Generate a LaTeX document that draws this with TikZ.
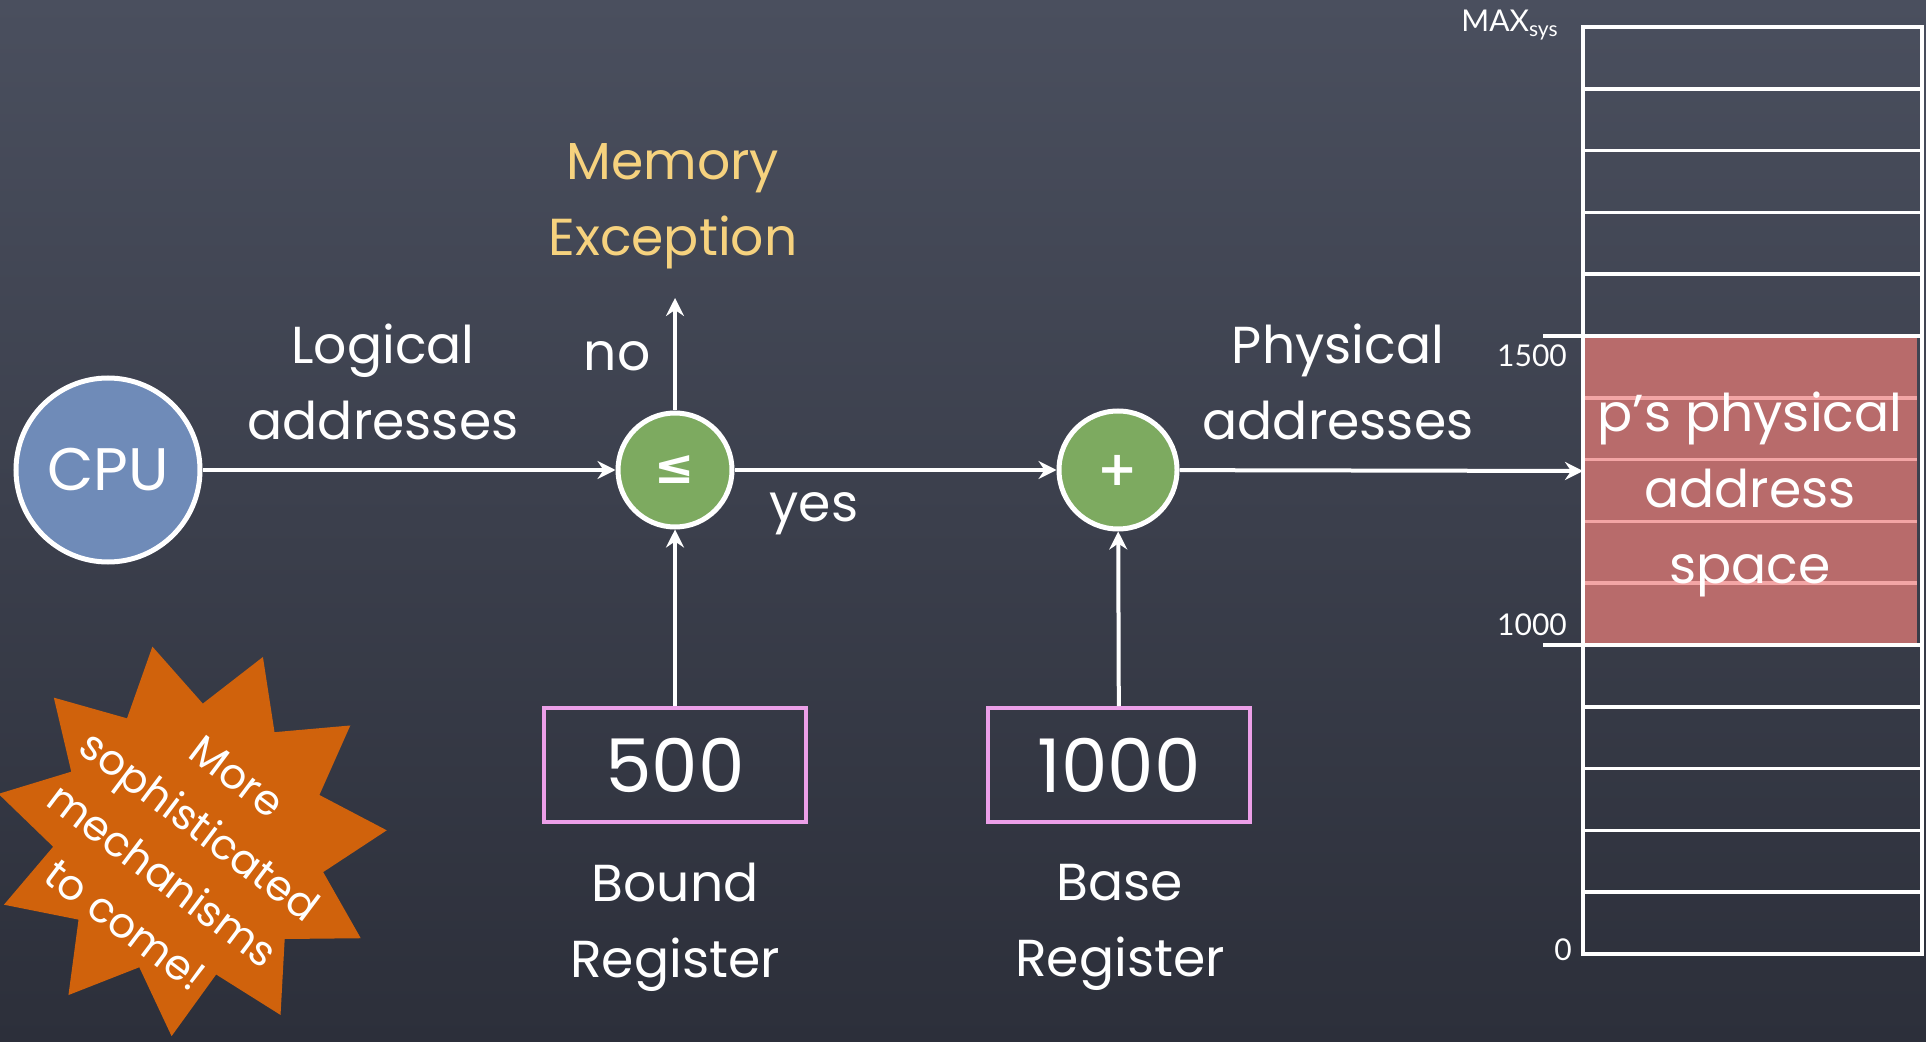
\documentclass[tikz,border=0pt]{standalone}
\usepackage{fontspec}
\setmainfont{Poppins}
\newfontfamily\numfont{Lato}
\newfontfamily\symfont{DejaVu Sans}
\usetikzlibrary{arrows.meta}

\definecolor{boardtop}{HTML}{4A4F5E}
\definecolor{boardbot}{HTML}{2C2F3A}
\definecolor{cpublue}{HTML}{6F8BB8}
\definecolor{opgreen}{HTML}{7DAA60}
\definecolor{regpink}{HTML}{EC9FE8}
\definecolor{excyellow}{HTML}{F6D27E}
\definecolor{segred}{HTML}{B86B6B}
\definecolor{segline}{HTML}{F3A5A5}
\definecolor{burst}{HTML}{D0620C}

\begin{document}
\begin{tikzpicture}[x=0.5pt,y=-0.5pt,
  lbl/.style={text=white, font=\fontsize{26}{38}\selectfont, align=center, inner sep=0pt},
  numlbl/.style={text=white, font=\numfont\fontsize{15}{18}\selectfont, inner sep=0pt},
  conn/.style={draw=white, line width=2pt, -{Stealth[length=9pt,width=9pt,inset=3pt]}},
  opcircle/.style={circle, fill=opgreen, draw=white, line width=2.5pt, inner sep=0pt,
    text=white, font=\symfont\fontsize{24}{26}\selectfont\bfseries},
  regbox/.style={draw=regpink, line width=2pt, minimum width=131pt, minimum height=57pt,
    text=white, font=\fontsize{37}{44}\selectfont},
  memline/.style={white, line width=1.8pt},
]
% chalkboard background
\shade[top color=boardtop, bottom color=boardbot] (0,0) rectangle (1926,1042);
\useasboundingbox (0,0) rectangle (1926,1042);

% starburst
\begin{scope}[shift={(190,840)}]
  \fill[burst] (-101:197) \foreach \k in {0,...,10} {
      -- ({-101+32.7273*\k}:197) -- ({-84.636+32.7273*\k}:137) } -- cycle;
\end{scope}
\node[text=white, font=\fontsize{21}{31}\selectfont, align=center, rotate=-37, inner sep=0pt]
  (burstlabel) at (181,851) {More\\sophisticated\\mechanisms\\to come!};

% memory column
\fill[segred] (1584,337) rectangle (1917,643);
\foreach \k in {6,...,9}
  \draw[segline, line width=1.8pt] (1584,{27+61.8*\k}) -- (1917,{27+61.8*\k});
\foreach \k in {1,...,4,5,10,11,12,13,14}
  \draw[memline] (1583,{27+61.8*\k}) -- (1922,{27+61.8*\k});
\draw[memline] (1583,27) rectangle (1922,954);
\draw[memline] (1543,336) -- (1583,336);
\draw[memline] (1543,645) -- (1583,645);
\coordinate (memin) at (1583,471);

\node[numlbl] (maxsys) at (1510,25) {MAX\textsubscript{sys}};
\node[numlbl] (n1500) at (1532,356) {1500};
\node[numlbl] (n1000) at (1532,625) {1000};
\node[numlbl] (n0) at (1563,950) {0};

\node[lbl] (pspace) at (1750,494) {p’s physical\\address\\space};

% processing chain
\node[circle, fill=cpublue, draw=white, line width=2.5pt, minimum size=92pt, inner sep=0pt,
  text=white, font=\fontsize{30}{36}\selectfont] (cpu) at (108,470) {CPU};
\node[opcircle, minimum size=57pt] (cmp) at (675,470) {≤};
\node[opcircle, minimum size=59pt] (add) at (1118,470) {+};

\node[regbox] (bound) at (675,765) {500};
\node[regbox] (base) at (1119,765) {1000};

\coordinate (exctip) at (675,298);

\draw[conn] (cpu) -- (cmp);
\draw[conn] (cmp) -- (add);
\draw[conn] (add) -- (memin);
\draw[conn] (cmp) -- (exctip);
\draw[conn] (bound) -- (cmp);
\draw[conn] (base) -- (add);

% labels
\node[lbl, text=excyellow] (exc) at (673,206) {Memory\\Exception};
\node[lbl] (logical) at (383,382) {Logical\\addresses};
\node[lbl] (physical) at (1338,382) {Physical\\addresses};
\node[lbl] (no) at (617,356) {no};
\node[lbl] (yes) at (814,514) {yes};
\node[lbl] (boundlbl) at (675,927) {Bound\\Register};
\node[lbl] (baselbl) at (1120,927) {Base\\Register};
\end{tikzpicture}
\end{document}
